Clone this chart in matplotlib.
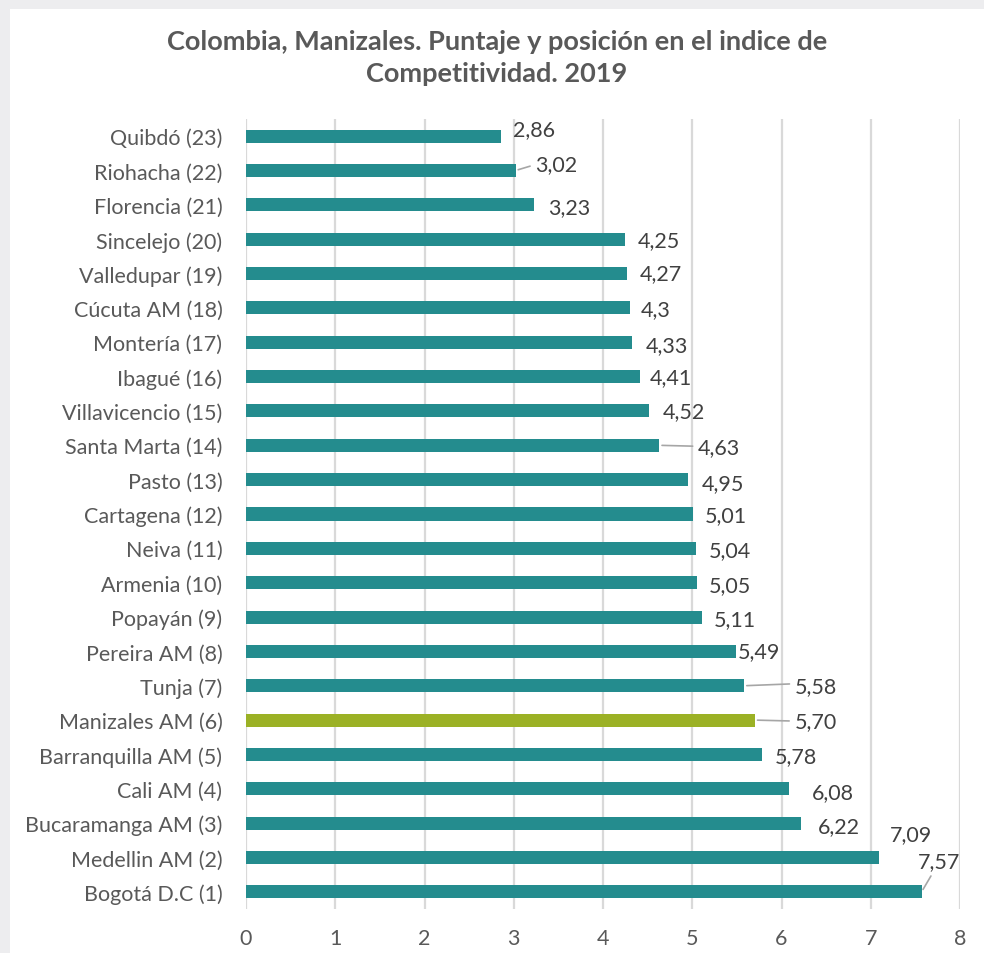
import matplotlib.pyplot as plt
from matplotlib.patches import Rectangle

plt.rcParams['font.family'] = ['Lato', 'DejaVu Sans']

# datos (de abajo hacia arriba: posicion 1 abajo)
ciudades = ['Bogotá D.C (1)', 'Medellin AM (2)', 'Bucaramanga AM (3)', 'Cali AM (4)',
            'Barranquilla AM (5)', 'Manizales AM (6)', 'Tunja (7)', 'Pereira AM (8)',
            'Popayán (9)', 'Armenia (10)', 'Neiva (11)', 'Cartagena (12)', 'Pasto (13)',
            'Santa Marta (14)', 'Villavicencio (15)', 'Ibagué (16)', 'Montería (17)',
            'Cúcuta AM (18)', 'Valledupar (19)', 'Sincelejo (20)', 'Florencia (21)',
            'Riohacha (22)', 'Quibdó (23)']
puntaje = [7.57, 7.09, 6.22, 6.08, 5.78, 5.70, 5.58, 5.49, 5.11, 5.05, 5.04, 5.01, 4.95,
           4.63, 4.52, 4.41, 4.33, 4.30, 4.27, 4.25, 3.23, 3.02, 2.86]
etiquetas = ['7,57', '7,09', '6,22', '6,08', '5,78', '5,70', '5,58', '5,49', '5,11', '5,05',
             '5,04', '5,01', '4,95', '4,63', '4,52', '4,41', '4,33', '4,3', '4,27', '4,25',
             '3,23', '3,02', '2,86']

# desplazamiento de etiquetas en pixeles (dx, dy hacia abajo)
offs = [(-4, -31), (11, -23), (17, 3), (23, 3), (13, 2), (40, 1), (51, 0), (2, 0),
        (12, 2), (12, 2), (13, 2), (12, 1), (14, 3), (39, 2), (13, 0), (10, 0),
        (13, 3), (11, 1), (13, 0), (12, 1), (14, 2), (20, -6), (12, -7)]
lineas = {0: (0.4, 0.05), 5: (0, 0.5), 6: (0, 0.6), 13: (0, 0.55), 21: (0, 0.5)}

gris = '#595959'
colores = ['#9BB125' if 'Manizales' in c else '#248C8E' for c in ciudades]

fig = plt.figure(figsize=(9.84, 9.54), dpi=100, facecolor='#EDEDEF')
fig.patches.append(Rectangle((10 / 984, 0), 1, 1 - 10 / 954, transform=fig.transFigure,
                             facecolor='white', edgecolor='none', zorder=-5))

ax = fig.add_axes([246 / 984, 1 - 910 / 954, 714 / 984, 790 / 954])
ax.set_facecolor('white')
y = list(range(len(ciudades)))
ax.barh(y, puntaje, height=0.38, color=colores, zorder=3)

ax.set_xlim(0, 8)
ax.set_ylim(-0.5, len(ciudades) - 0.5)
ax.set_xticks(range(9))
ax.set_yticks(y)
ax.set_yticklabels(ciudades)
ax.tick_params(axis='both', length=0, labelsize=15.5, labelcolor=gris)
ax.tick_params(axis='y', pad=17)
ax.tick_params(axis='x', pad=14)
ax.grid(axis='x', color='#D9D9D9', lw=1.6)
ax.set_axisbelow(True)
for s in ax.spines.values():
    s.set_visible(False)

for i, (v, t) in enumerate(zip(puntaje, etiquetas)):
    dx, dy = offs[i]
    kw = {}
    if i in lineas:
        kw['arrowprops'] = dict(arrowstyle='-', color='#A6A6A6', lw=1.2,
                                shrinkA=2, shrinkB=2, relpos=lineas[i])
    ax.annotate(t, xy=(v, i), xytext=(dx * 0.72, -dy * 0.72), textcoords='offset points',
                ha='left', va='center', fontsize=15.5, color='#404040', zorder=4, **kw)

fig.text(0.505, 1 - 58 / 954,
         'Colombia, Manizales. Puntaje y posición en el indice de\nCompetitividad. 2019',
         ha='center', va='center', fontsize=19.5, fontweight='bold', color=gris,
         linespacing=1.35)

fig.savefig('out.png', dpi=100, facecolor=fig.get_facecolor())
